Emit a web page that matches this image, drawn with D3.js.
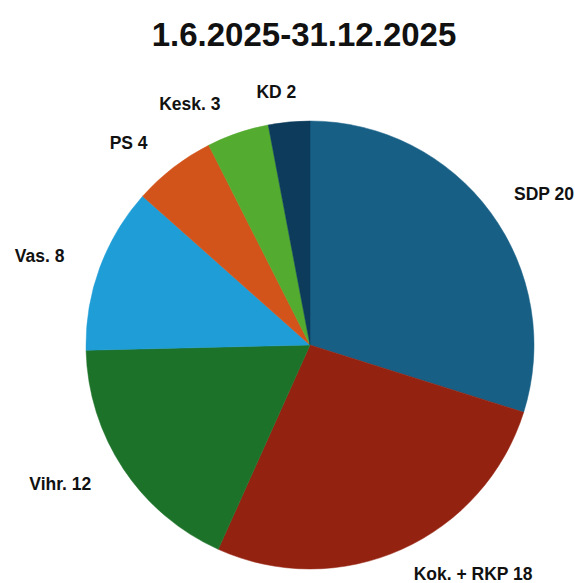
<!DOCTYPE html>
<html>
<head>
<meta charset="utf-8">
<script src="https://cdn.jsdelivr.net/npm/d3@7"></script>
<style>
  html, body { margin: 0; padding: 0; background: #ffffff; }
  svg { display: block; }
</style>
</head>
<body>
<svg id="chart" width="575" height="583"></svg>
<script>
const title = "1.6.2025-31.12.2025";
const parties = ["SDP", "Kok. + RKP", "Vihr.", "Vas.", "PS", "Kesk.", "KD"];
const seats = [20, 18, 12, 8, 4, 3, 2];
const colors = ["#175f85", "#942210", "#1d7229", "#1e9dd6", "#d2541a", "#53ab2f", "#0c3b5b"];

const svg = d3.select("#chart");
const cx = 310, cy = 345, r = 224;

svg.append("text")
  .attr("x", 304).attr("y", 46)
  .attr("text-anchor", "middle")
  .attr("font-family", "Liberation Sans, Arial, sans-serif")
  .attr("font-weight", "bold")
  .attr("font-size", 33)
  .attr("fill", "#111")
  .text(title);

const data = parties.map((p, i) => ({ name: p, value: seats[i], color: colors[i] }));
const pie = d3.pie().value(d => d.value).sort(null);
const arcs = pie(data);
const arc = d3.arc().innerRadius(0).outerRadius(r);

const g = svg.append("g").attr("transform", `translate(${cx},${cy})`);
g.selectAll("path").data(arcs).enter().append("path")
  .attr("d", arc)
  .attr("fill", d => d.data.color)
  .attr("stroke", d => d.data.color)
  .attr("stroke-width", 0.5);

const LR = 253;
g.selectAll("text.lbl").data(arcs).enter().append("text")
  .attr("class", "lbl")
  .each(function(d) {
    const a = (d.startAngle + d.endAngle) / 2;
    const s = Math.sin(a), c = Math.cos(a);
    let x = LR * s, y = -LR * c;
    let anchor = "middle";
    if (s > 0.05) { anchor = "start"; }
    else if (s < -0.15) { anchor = "end"; x -= 8; }
    else { x -= 10; }
    d3.select(this).attr("x", x).attr("y", y).attr("text-anchor", anchor);
  })
  .attr("dominant-baseline", "middle")
  .attr("font-family", "Liberation Sans, Arial, sans-serif")
  .attr("font-weight", "bold")
  .attr("font-size", 17.5)
  .attr("fill", "#111")
  .text(d => `${d.data.name} ${d.data.value}`);
</script>
</body>
</html>
